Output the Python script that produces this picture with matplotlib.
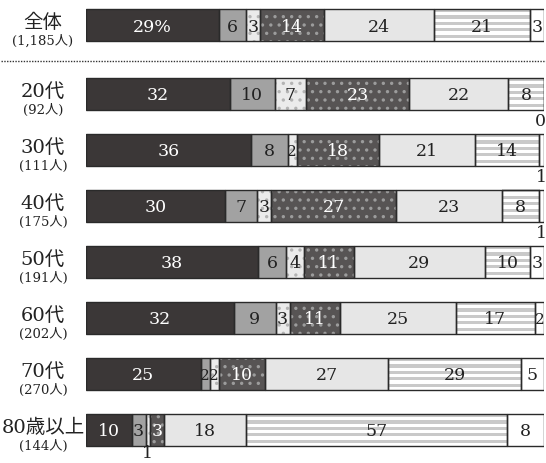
import numpy as np
import matplotlib
matplotlib.use("Agg")
import matplotlib.pyplot as plt
from matplotlib.colors import to_rgb

# Data #
groups = ["全体", "20代", "30代", "40代", "50代", "60代", "70代", "80歳以上"]
counts = ["(1,185人)", "(92人)", "(111人)", "(175人)", "(191人)", "(202人)", "(270人)", "(144人)"]
seg1 = [29, 32, 36, 30, 38, 32, 25, 10]
seg2 = [6, 10, 8, 7, 6, 9, 2, 3]
seg3 = [3, 7, 2, 3, 4, 3, 2, 1]
seg4 = [14, 23, 18, 27, 11, 11, 10, 3]
seg5 = [24, 22, 21, 23, 29, 25, 27, 18]
seg6 = [21, 8, 14, 8, 10, 17, 29, 57]
seg7 = [3, 0, 1, 1, 3, 2, 5, 8]
segments = [seg1, seg2, seg3, seg4, seg5, seg6, seg7]

# Styles: face, pattern, pattern colour, text colour #
styles = [
    ("#3b3737", None, None, "white"),
    ("#a2a2a2", None, None, "#222222"),
    ("#ebebeb", "dots", "#b4b4b4", "#222222"),
    ("#575454", "dots", "#9c9c9c", "white"),
    ("#e6e6e6", None, None, "#222222"),
    ("#ffffff", "stripes", "#c9c9c9", "#222222"),
    ("#ffffff", None, None, "#222222"),
]

plt.rcParams["font.family"] = ["DejaVu Serif", "Noto Sans CJK JP"]
plt.rcParams["hatch.linewidth"] = 1.2

W, H = 546, 464
fig = plt.figure(figsize=(W / 100, H / 100), dpi=100)
bar_left, bar_right = 86, 544
ax = fig.add_axes([bar_left / W, 0, (bar_right - bar_left) / W, 1])

# row centres (px from top) and bar height #
centres = [26] + [95 + 56 * i for i in range(len(groups) - 1)]
bar_h = 32

def stripe_image(face, col, n=10):
    img = np.array([to_rgb(col) if k % 2 == 0 else to_rgb(face) for k in range(n)])
    return img.reshape(n, 1, 3)

for r, (g, c) in enumerate(zip(groups, counts)):
    y = centres[r]
    vals = [s[r] for s in segments]
    total = float(sum(vals))
    left = 0.0
    for k, (v, (face, pat, pcol, tcol)) in enumerate(zip(vals, styles)):
        w = v / total * 100
        ax.barh(y, w, left=left, height=bar_h, color=face, linewidth=0, zorder=1)
        if pat == "dots" and w > 0:
            ax.barh(y, w, left=left, height=bar_h, facecolor="none",
                    edgecolor=pcol, linewidth=0, hatch="..", zorder=2)
        if pat == "stripes" and w > 0:
            ax.imshow(stripe_image(face, pcol), extent=(left, left + w, y + bar_h / 2, y - bar_h / 2),
                      aspect="auto", interpolation="nearest", origin="upper", zorder=2)
        ax.barh(y, w, left=left, height=bar_h, facecolor="none",
                edgecolor="#2a2a2a", linewidth=1.0, zorder=3)
        label = str(v) + ("%" if (r == 0 and k == 0) else "")
        if v == 0:
            ax.text(left + w / 2 + 0.4, y + bar_h / 2 + 10, label, ha="right", va="center",
                    fontsize=12.5, color="#222222", clip_on=False, zorder=4)
        elif v <= 1:
            off = 7 if r == len(groups) - 1 else 11
            ax.text(left + w / 2, y + bar_h / 2 + off, label, ha="center", va="center",
                    fontsize=12.5, color="#222222", clip_on=False, zorder=4)
        else:
            ax.text(left + w / 2, y + 1, label, ha="center", va="center",
                    fontsize=11 if v <= 2 else 12.5, color=tcol, zorder=4)
        left += w

    # group labels #
    ax.text(-9.4, y - 3, g, ha="center", va="center", fontsize=14,
            color="#222222", clip_on=False)
    ax.text(-9.4, y + 15, c, ha="center", va="center", fontsize=9.5,
            color="#222222", clip_on=False)

# dotted separator #
ax.plot([-18.6, 100.5], [62, 62], color="#333333", lw=1.0,
        ls=(0, (1, 1)), clip_on=False)

ax.set_xlim(0, 100)
ax.set_ylim(H, 0)
ax.axis("off")

fig.savefig("out.png", dpi=100)
